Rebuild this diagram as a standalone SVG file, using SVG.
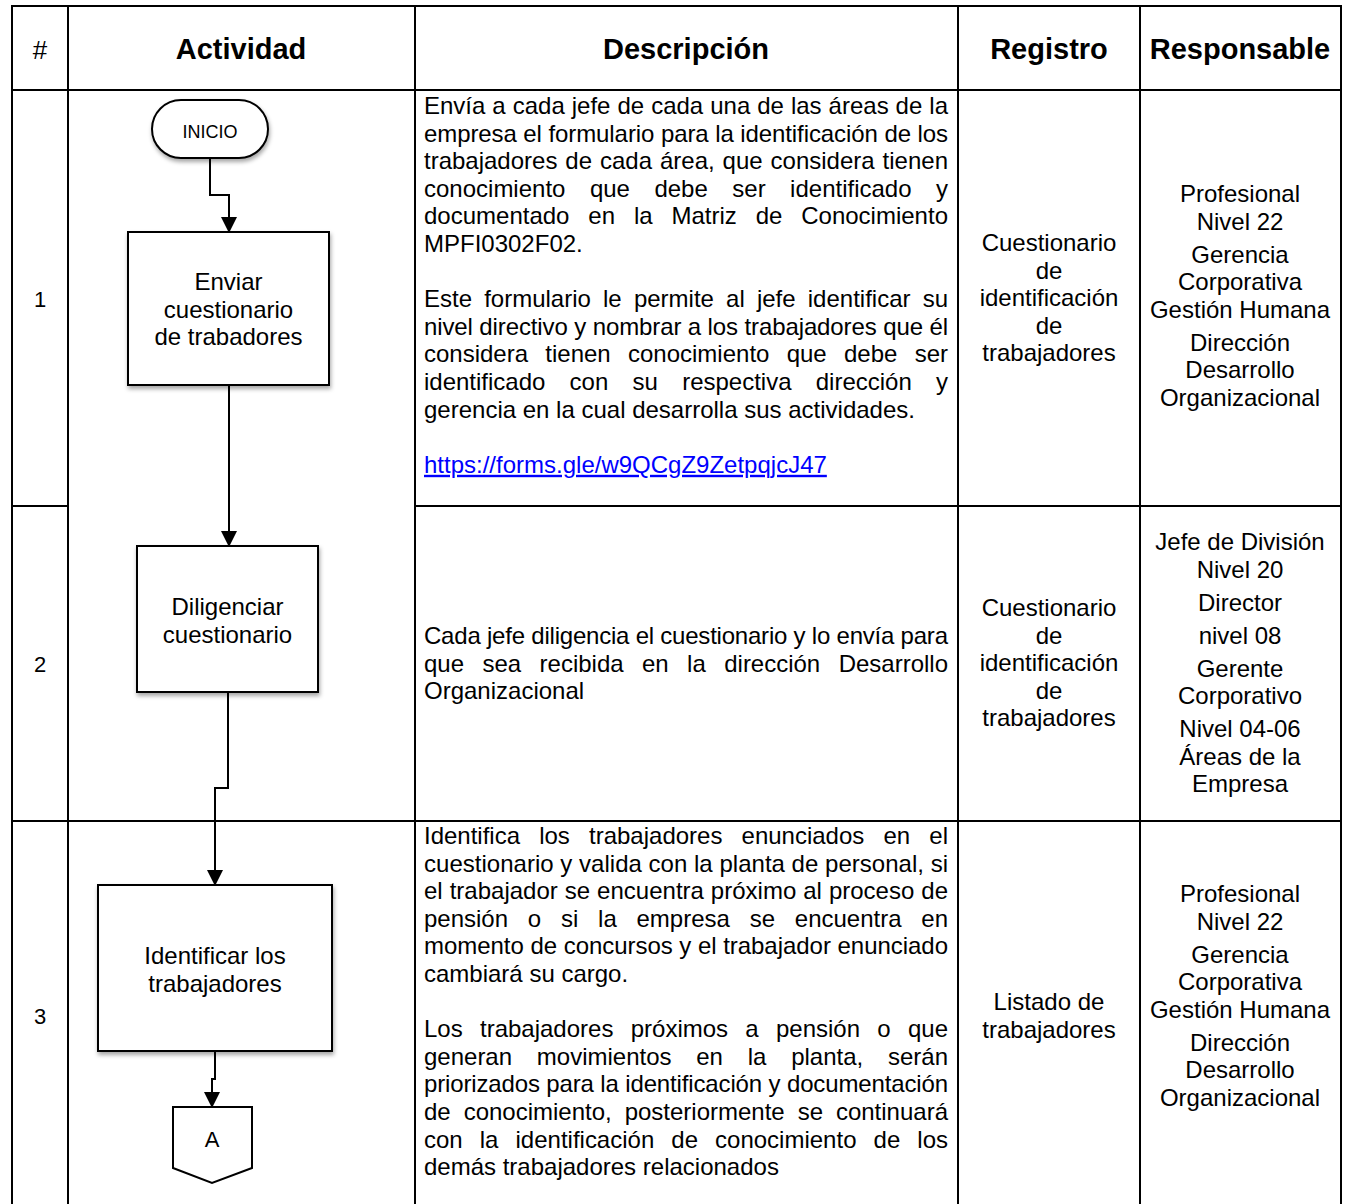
<svg xmlns="http://www.w3.org/2000/svg" width="1346" height="1204" viewBox="0 0 1346 1204">
<style>
.t{font-family:"Liberation Sans",Arial,sans-serif;font-size:24px;fill:#000}
.c{text-anchor:middle}
.h{font-weight:bold;font-size:29px}
.n{font-size:22px}
.grid{stroke:#000;stroke-width:2;fill:none}
.shape{fill:#fff;stroke:#000;stroke-width:2}
.conn{fill:none;stroke:#000;stroke-width:2;marker-end:url(#arrow)}
.link{fill:#0000FF;text-decoration:underline}
</style>
<defs>
<marker id="arrow" markerUnits="userSpaceOnUse" markerWidth="16" markerHeight="16" viewBox="0 0 16 16" refX="15" refY="8" orient="auto">
<path d="M0,0 L16,8 L0,16 z" fill="#000"/>
</marker>
<filter id="sh" x="-20%" y="-20%" width="140%" height="150%">
<feDropShadow dx="1" dy="3" stdDeviation="2" flood-color="#000" flood-opacity="0.35"/>
</filter>
</defs>
<rect width="1346" height="1204" fill="#fff"/>
<g id="table" class="grid">
<line x1="12" y1="6" x2="1341" y2="6"/>
<line x1="12" y1="90" x2="1341" y2="90"/>
<line x1="12" y1="506" x2="68" y2="506"/>
<line x1="415" y1="506" x2="1341" y2="506"/>
<line x1="12" y1="821" x2="1341" y2="821"/>
<line x1="12" y1="5" x2="12" y2="1204"/>
<line x1="68" y1="5" x2="68" y2="1204"/>
<line x1="415" y1="5" x2="415" y2="1204"/>
<line x1="958" y1="5" x2="958" y2="1204"/>
<line x1="1140" y1="5" x2="1140" y2="1204"/>
<line x1="1341" y1="5" x2="1341" y2="1204"/>
</g>
<g id="header">
<text class="t c" x="40" y="59" style="font-size:26px">#</text>
<text class="t c h" x="241" y="59">Actividad</text>
<text class="t c h" x="686" y="59">Descripción</text>
<text class="t c h" x="1049" y="59">Registro</text>
<text class="t c h" x="1240" y="59">Responsable</text>
</g>
<g id="numbers">
<text class="t c n" x="40" y="307">1</text>
<text class="t c n" x="40" y="672">2</text>
<text class="t c n" x="40" y="1024">3</text>
</g>
<g id="connectors">
<polyline class="conn" points="210,158 210,195 229,195 229,232"/>
<polyline class="conn" points="229,385 229,546"/>
<polyline class="conn" points="228,692 228,788 215,788 215,885"/>
<polyline class="conn" points="215,1051 215,1079 212,1079 212,1107"/>
</g>
<g id="n-inicio">
<rect class="shape" x="152" y="100" width="116" height="58" rx="29" ry="29" filter="url(#sh)"/>
<text class="t c" x="210" y="137.5" style="font-size:18px">INICIO</text>
</g>
<g id="n-enviar">
<rect class="shape" x="128" y="232" width="201" height="153" filter="url(#sh)"/>
<text class="t c" x="228.5" y="290">Enviar</text>
<text class="t c" x="228.5" y="317.6">cuestionario</text>
<text class="t c" x="228.5" y="345.2">de trabadores</text>
</g>
<g id="n-diligenciar">
<rect class="shape" x="137" y="546" width="181" height="146" filter="url(#sh)"/>
<text class="t c" x="227.5" y="615">Diligenciar</text>
<text class="t c" x="227.5" y="642.6">cuestionario</text>
</g>
<g id="n-identificar">
<rect class="shape" x="98" y="885" width="234" height="166" filter="url(#sh)"/>
<text class="t c" x="215" y="964">Identificar los</text>
<text class="t c" x="215" y="991.6">trabajadores</text>
</g>
<g id="n-a">
<polygon class="shape" points="173,1107 252,1107 252,1168 212,1183 173,1168"/>
<text class="t c" x="212" y="1147" style="font-size:22px">A</text>
</g>
<g id="desc1">
<text class="t" x="424" y="114" textLength="524" lengthAdjust="spacing" style="word-spacing:0.3px">Envía a cada jefe de cada una de las áreas de la</text>
<text class="t" x="424" y="141.6" textLength="524" lengthAdjust="spacing">empresa el formulario para la identificación de los</text>
<text class="t" x="424" y="169.2" textLength="524" lengthAdjust="spacing" style="word-spacing:1.3px">trabajadores de cada área, que considera tienen</text>
<text class="t" x="424" y="196.8" textLength="524" lengthAdjust="spacing" style="word-spacing:17.8px">conocimiento que debe ser identificado y</text>
<text class="t" x="424" y="224.4" textLength="524" lengthAdjust="spacing" style="word-spacing:12.2px">documentado en la Matriz de Conocimiento</text>
<text class="t" x="424" y="252">MPFI0302F02.</text>
<text class="t" x="424" y="307.2" textLength="524" lengthAdjust="spacing" style="word-spacing:5.5px">Este formulario le permite al jefe identificar su</text>
<text class="t" x="424" y="334.8" textLength="524" lengthAdjust="spacing">nivel directivo y nombrar a los trabajadores que él</text>
<text class="t" x="424" y="362.4" textLength="524" lengthAdjust="spacing" style="word-spacing:10.6px">considera tienen conocimiento que debe ser</text>
<text class="t" x="424" y="390" textLength="524" lengthAdjust="spacing" style="word-spacing:17.6px">identificado con su respectiva dirección y</text>
<text class="t" x="424" y="417.6">gerencia en la cual desarrolla sus actividades.</text>
<text class="t link" x="424" y="472.8">https://forms.gle/w9QCgZ9ZetpqjcJ47</text>
</g>
<g id="desc2">
<text class="t" x="424" y="644" textLength="524" lengthAdjust="spacing">Cada jefe diligencia el cuestionario y lo envía para</text>
<text class="t" x="424" y="671.6" textLength="524" lengthAdjust="spacing" style="word-spacing:11.75px">que sea recibida en la dirección Desarrollo</text>
<text class="t" x="424" y="699.2">Organizacional</text>
</g>
<g id="desc3">
<text class="t" x="424" y="844" textLength="524" lengthAdjust="spacing" style="word-spacing:12.5px">Identifica los trabajadores enunciados en el</text>
<text class="t" x="424" y="871.6" textLength="524" lengthAdjust="spacing">cuestionario y valida con la planta de personal, si</text>
<text class="t" x="424" y="899.2" textLength="524" lengthAdjust="spacing" style="word-spacing:0.3px">el trabajador se encuentra próximo al proceso de</text>
<text class="t" x="424" y="926.8" textLength="524" lengthAdjust="spacing" style="word-spacing:13.1px">pensión o si la empresa se encuentra en</text>
<text class="t" x="424" y="954.4" textLength="524" lengthAdjust="spacing">momento de concursos y el trabajador enunciado</text>
<text class="t" x="424" y="982">cambiará su cargo.</text>
<text class="t" x="424" y="1037.2" textLength="524" lengthAdjust="spacing" style="word-spacing:10.6px">Los trabajadores próximos a pensión o que</text>
<text class="t" x="424" y="1064.8" textLength="524" lengthAdjust="spacing" style="word-spacing:18.1px">generan movimientos en la planta, serán</text>
<text class="t" x="424" y="1092.4" textLength="524" lengthAdjust="spacing">priorizados para la identificación y documentación</text>
<text class="t" x="424" y="1120" textLength="524" lengthAdjust="spacing" style="word-spacing:6.3px">de conocimiento, posteriormente se continuará</text>
<text class="t" x="424" y="1147.6" textLength="524" lengthAdjust="spacing" style="word-spacing:10.4px">con la identificación de conocimiento de los</text>
<text class="t" x="424" y="1175.2">demás trabajadores relacionados</text>
</g>
<g id="registro">
<text class="t c" x="1049" y="251">Cuestionario</text>
<text class="t c" x="1049" y="278.6">de</text>
<text class="t c" x="1049" y="306.2">identificación</text>
<text class="t c" x="1049" y="333.8">de</text>
<text class="t c" x="1049" y="361.4">trabajadores</text>
<text class="t c" x="1049" y="616">Cuestionario</text>
<text class="t c" x="1049" y="643.6">de</text>
<text class="t c" x="1049" y="671.2">identificación</text>
<text class="t c" x="1049" y="698.8">de</text>
<text class="t c" x="1049" y="726.4">trabajadores</text>
<text class="t c" x="1049" y="1010">Listado de</text>
<text class="t c" x="1049" y="1037.6">trabajadores</text>
</g>
<g id="responsable">
<text class="t c" x="1240" y="202">Profesional</text>
<text class="t c" x="1240" y="229.6">Nivel 22</text>
<text class="t c" x="1240" y="262.5">Gerencia</text>
<text class="t c" x="1240" y="290.1">Corporativa</text>
<text class="t c" x="1240" y="317.7">Gestión Humana</text>
<text class="t c" x="1240" y="350.6">Dirección</text>
<text class="t c" x="1240" y="378.2">Desarrollo</text>
<text class="t c" x="1240" y="405.8">Organizacional</text>
<text class="t c" x="1240" y="550">Jefe de División</text>
<text class="t c" x="1240" y="577.6">Nivel 20</text>
<text class="t c" x="1240" y="611">Director</text>
<text class="t c" x="1240" y="643.5">nivel 08</text>
<text class="t c" x="1240" y="676.5">Gerente</text>
<text class="t c" x="1240" y="704.1">Corporativo</text>
<text class="t c" x="1240" y="737">Nivel 04-06</text>
<text class="t c" x="1240" y="764.6">Áreas de la</text>
<text class="t c" x="1240" y="792.2">Empresa</text>
<text class="t c" x="1240" y="902">Profesional</text>
<text class="t c" x="1240" y="929.6">Nivel 22</text>
<text class="t c" x="1240" y="962.5">Gerencia</text>
<text class="t c" x="1240" y="990.1">Corporativa</text>
<text class="t c" x="1240" y="1017.7">Gestión Humana</text>
<text class="t c" x="1240" y="1050.6">Dirección</text>
<text class="t c" x="1240" y="1078.2">Desarrollo</text>
<text class="t c" x="1240" y="1105.8">Organizacional</text>
</g>
</svg>
